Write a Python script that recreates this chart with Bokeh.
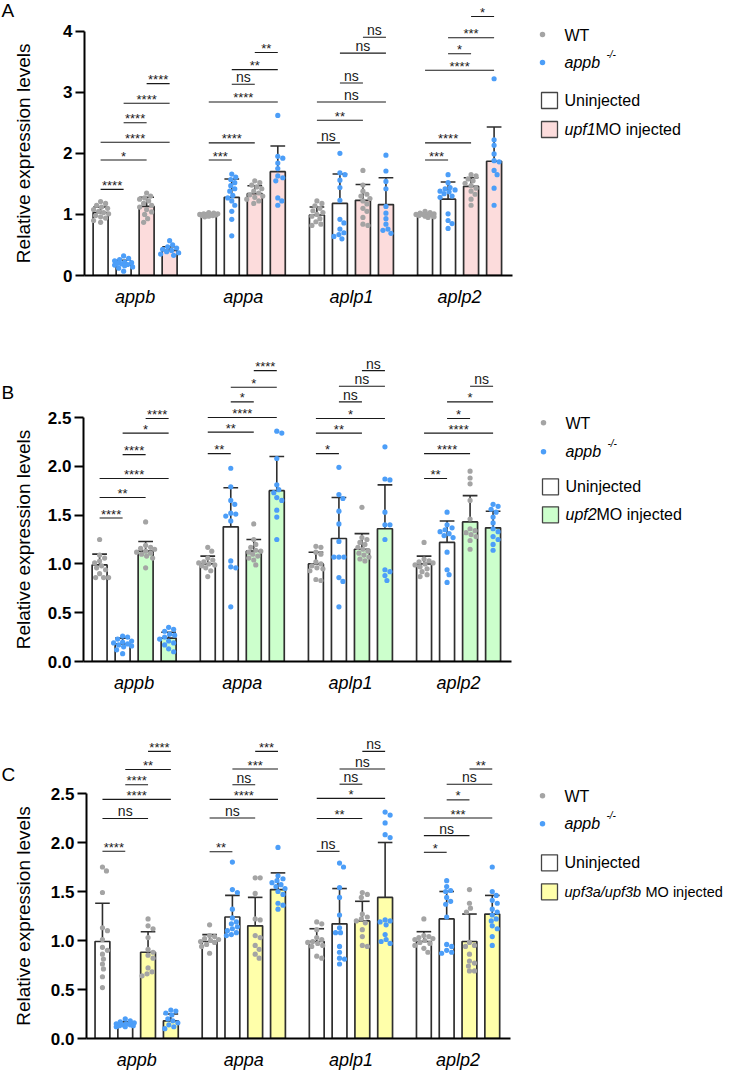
import math
from bokeh.plotting import figure
from bokeh.models import Range1d, FixedTicker, NumeralTickFormatter
from bokeh.layouts import column, row
from bokeh.core.properties import value
from bokeh.embed import file_html
from bokeh.resources import INLINE

FONT = "Liberation Sans"
GREY = "#A4A4A4"
BLUE = "#4C9EF8"
EDGE = "#2E2E2E"

genes = ["appb", "appa", "aplp1", "aplp2"]
bar_genotype = ["WT", "appb", "WT", "appb"]
bar_injected = [False, False, True, True]
y_title = "Relative expression levels"

# ---------------- Panel A (upf1 MO) ----------------
A_means = [[1.03, 0.19, 1.13, 0.41],
           [1.00, 1.28, 1.34, 1.70],
           [0.99, 1.18, 1.23, 1.16],
           [1.00, 1.25, 1.46, 1.87]]
A_sd = [[0.09, 0.06, 0.15, 0.06],
        [0.02, 0.30, 0.13, 0.42],
        [0.13, 0.48, 0.26, 0.44],
        [0.02, 0.28, 0.14, 0.56]]
A_points = [
    [[1.21, 1.18, 1.15, 1.12, 1.10, 1.08, 1.05, 1.03, 1.01, 0.98, 0.96, 0.94, 0.90, 0.87],
     [0.32, 0.28, 0.26, 0.24, 0.22, 0.21, 0.20, 0.19, 0.18, 0.17, 0.16, 0.14, 0.12, 0.07],
     [1.35, 1.30, 1.27, 1.25, 1.22, 1.18, 1.15, 1.12, 1.08, 1.04, 1.00, 0.93, 0.87],
     [0.57, 0.50, 0.47, 0.45, 0.43, 0.41, 0.39, 0.37, 0.35, 0.33]],
    [[1.03, 1.02, 1.01, 1.00, 1.00, 0.99, 0.99, 0.98, 0.97, 0.96, 1.01, 0.98],
     [1.66, 1.61, 1.57, 1.52, 1.47, 1.42, 1.38, 1.31, 1.27, 1.22, 1.15, 1.05, 0.92, 0.65],
     [1.55, 1.52, 1.48, 1.45, 1.42, 1.38, 1.35, 1.32, 1.30, 1.28, 1.25, 1.22, 1.18],
     [2.62, 1.95, 1.92, 1.84, 1.75, 1.63, 1.60, 1.55, 1.27, 1.22, 1.15]],
    [[1.22, 1.18, 1.14, 1.10, 1.06, 1.03, 1.00, 0.97, 0.93, 0.88, 0.84, 0.82],
     [2.00, 1.68, 1.65, 1.56, 1.44, 1.23, 0.92, 0.86, 0.76, 0.70, 0.67, 0.64, 0.60],
     [1.72, 1.48, 1.38, 1.33, 1.30, 1.26, 1.22, 1.17, 1.10, 1.05, 0.95, 0.84, 0.82],
     [1.97, 1.71, 1.54, 1.42, 1.13, 1.02, 0.93, 0.84, 0.76, 0.69, 0.74]],
    [[1.05, 1.03, 1.02, 1.01, 1.00, 1.00, 0.99, 0.98, 0.97, 0.96, 0.95, 1.00],
     [1.65, 1.52, 1.44, 1.42, 1.40, 1.37, 1.34, 1.30, 1.28, 1.01, 0.90, 0.85, 0.77, 1.38],
     [1.65, 1.63, 1.58, 1.55, 1.51, 1.47, 1.43, 1.38, 1.33, 1.25, 1.15],
     [3.22, 2.22, 2.13, 1.99, 1.88, 1.86, 1.72, 1.65, 1.43, 1.15]],
]
# (gene, bar i, bar j, bracket height, label)
A_sig = [
    (0, 0, 1, 1.41, "****"), (0, 0, 2, 1.89, "*"), (0, 0, 3, 2.18, "****"),
    (0, 1, 2, 2.50, "****"), (0, 1, 3, 2.82, "****"), (0, 2, 3, 3.14, "****"),
    (1, 0, 1, 1.89, "***"), (1, 0, 2, 2.17, "****"), (1, 0, 3, 2.84, "****"),
    (1, 1, 2, 3.13, "ns"), (1, 1, 3, 3.37, "**"), (1, 2, 3, 3.65, "**"),
    (2, 0, 1, 2.17, "ns"), (2, 0, 2, 2.54, "**"), (2, 0, 3, 2.84, "ns"),
    (2, 1, 2, 3.15, "ns"), (2, 1, 3, 3.64, "ns"), (2, 2, 3, 3.90, "ns"),
    (3, 0, 1, 1.89, "***"), (3, 0, 2, 2.17, "****"), (3, 0, 3, 3.36, "****"),
    (3, 1, 2, 3.63, "*"), (3, 1, 3, 3.89, "***"), (3, 2, 3, 4.24, "*"),
]

# ---------------- Panel B (upf2 MO) ----------------
B_means = [[0.99, 0.18, 1.13, 0.24],
           [1.00, 1.38, 1.13, 1.75],
           [1.00, 1.26, 1.15, 1.36],
           [1.00, 1.22, 1.43, 1.37]]
B_sd = [[0.11, 0.06, 0.10, 0.06],
        [0.08, 0.40, 0.12, 0.35],
        [0.12, 0.42, 0.16, 0.45],
        [0.08, 0.22, 0.27, 0.17]]
B_points = [
    [[1.25, 1.09, 1.06, 1.03, 1.01, 0.98, 0.96, 0.94, 0.90, 0.86, 0.86, 0.86],
     [0.26, 0.25, 0.23, 0.21, 0.20, 0.19, 0.18, 0.17, 0.16, 0.15, 0.12, 0.08],
     [1.43, 1.19, 1.17, 1.16, 1.15, 1.13, 1.12, 1.11, 1.10, 1.08, 1.06, 0.96],
     [0.35, 0.33, 0.31, 0.28, 0.27, 0.25, 0.23, 0.21, 0.19, 0.17, 0.13, 0.10]],
    [[1.17, 1.13, 1.06, 1.04, 1.02, 1.01, 1.00, 0.99, 0.98, 0.96, 0.93, 0.87],
     [1.98, 1.79, 1.65, 1.61, 1.52, 1.51, 1.49, 1.44, 1.03, 0.97, 0.96, 0.56],
     [1.41, 1.25, 1.20, 1.17, 1.14, 1.13, 1.12, 1.10, 1.08, 1.06, 1.04, 0.99],
     [2.36, 2.34, 2.08, 1.81, 1.76, 1.73, 1.68, 1.65, 1.55, 1.48, 1.25]],
    [[1.18, 1.17, 1.12, 1.10, 1.02, 1.00, 0.98, 0.96, 0.95, 0.93, 0.84, 0.83],
     [1.99, 1.71, 1.67, 1.54, 1.41, 1.23, 1.07, 1.07, 1.07, 0.86, 0.82, 0.56],
     [1.58, 1.27, 1.25, 1.22, 1.20, 1.17, 1.15, 1.13, 1.11, 1.09, 1.07, 1.05, 1.03],
     [2.20, 1.87, 1.86, 1.53, 1.40, 1.40, 1.25, 0.94, 0.92, 0.88, 0.83]],
    [[1.22, 1.05, 1.03, 1.02, 1.01, 1.00, 0.99, 0.97, 0.95, 0.92, 0.89, 0.87],
     [1.53, 1.40, 1.37, 1.35, 1.33, 1.31, 1.29, 1.27, 1.12, 0.94, 0.89, 0.81],
     [1.95, 1.88, 1.82, 1.65, 1.46, 1.36, 1.34, 1.32, 1.30, 1.28, 1.24, 1.15],
     [1.61, 1.59, 1.56, 1.53, 1.48, 1.42, 1.36, 1.33, 1.28, 1.25, 1.20, 1.14]],
]
B_sig = [
    (0, 0, 1, 1.47, "****"), (0, 0, 2, 1.68, "**"), (0, 0, 3, 1.875, "****"),
    (0, 1, 2, 2.12, "****"), (0, 1, 3, 2.34, "*"), (0, 2, 3, 2.49, "****"),
    (1, 0, 1, 2.13, "**"), (1, 0, 2, 2.35, "**"), (1, 0, 3, 2.50, "****"),
    (1, 1, 2, 2.66, "*"), (1, 1, 3, 2.81, "*"), (1, 2, 3, 2.98, "****"),
    (2, 0, 1, 2.13, "*"), (2, 0, 2, 2.34, "**"), (2, 0, 3, 2.49, "*"),
    (2, 1, 2, 2.66, "ns"), (2, 1, 3, 2.82, "ns"), (2, 2, 3, 2.98, "ns"),
    (3, 0, 1, 1.875, "**"), (3, 0, 2, 2.13, "****"), (3, 0, 3, 2.34, "****"),
    (3, 1, 2, 2.49, "*"), (3, 1, 3, 2.66, "*"), (3, 2, 3, 2.82, "ns"),
]

# ---------------- Panel C (upf3a/upf3b MO) ----------------
C_means = [[0.99, 0.14, 0.88, 0.18],
           [0.99, 1.24, 1.15, 1.52],
           [0.99, 1.17, 1.20, 1.44],
           [0.99, 1.22, 0.99, 1.27]]
C_sd = [[0.39, 0.03, 0.21, 0.07],
        [0.07, 0.22, 0.29, 0.17],
        [0.13, 0.36, 0.20, 0.56],
        [0.10, 0.28, 0.28, 0.19]]
C_points = [
    [[1.75, 1.71, 1.49, 1.13, 1.10, 1.01, 0.93, 0.90, 0.86, 0.81, 0.76, 0.71, 0.63, 0.52],
     [0.20, 0.18, 0.17, 0.16, 0.15, 0.15, 0.14, 0.14, 0.13, 0.13, 0.12, 0.12],
     [1.22, 1.15, 1.12, 1.03, 0.91, 0.88, 0.85, 0.82, 0.72, 0.68, 0.66, 0.64],
     [0.29, 0.28, 0.26, 0.24, 0.20, 0.18, 0.16, 0.14, 0.12, 0.10]],
    [[1.16, 1.05, 1.04, 1.02, 1.01, 1.00, 0.99, 0.98, 0.96, 0.94, 0.87],
     [1.80, 1.52, 1.49, 1.32, 1.23, 1.19, 1.17, 1.14, 1.12, 1.10, 1.08, 1.06, 1.05],
     [1.64, 1.64, 1.48, 1.22, 1.21, 1.05, 1.03, 0.95, 0.91, 0.86, 0.82],
     [1.95, 1.66, 1.63, 1.61, 1.59, 1.57, 1.55, 1.53, 1.50, 1.47, 1.38, 1.36, 1.32]],
    [[1.19, 1.17, 1.11, 1.03, 1.01, 0.99, 0.98, 0.97, 0.95, 0.94, 0.84, 0.82],
     [1.79, 1.75, 1.54, 1.44, 1.26, 1.13, 1.08, 1.08, 0.94, 0.88, 0.82, 0.81, 0.76],
     [1.49, 1.47, 1.44, 1.27, 1.24, 1.22, 1.20, 1.18, 1.11, 1.04, 0.95, 0.94],
     [2.31, 2.28, 2.20, 2.08, 2.05, 1.21, 1.20, 1.19, 1.16, 1.06, 1.01, 0.99, 0.97]],
    [[1.22, 1.05, 1.04, 1.03, 1.02, 1.01, 1.00, 0.98, 0.97, 0.95, 0.92, 0.88],
     [1.61, 1.55, 1.51, 1.50, 1.44, 1.40, 1.37, 1.24, 0.96, 0.94, 0.90, 0.87, 0.88],
     [1.52, 1.38, 1.33, 1.29, 0.98, 0.95, 0.94, 0.86, 0.79, 0.77, 0.74, 0.69, 0.69],
     [1.75, 1.50, 1.46, 1.41, 1.38, 1.32, 1.29, 1.26, 1.22, 1.20, 1.15, 1.12, 1.04, 0.95]],
]
C_sig = [
    (0, 0, 1, 1.91, "****"), (0, 0, 2, 2.245, "ns"), (0, 0, 3, 2.44, "****"),
    (0, 1, 2, 2.59, "****"), (0, 1, 3, 2.745, "**"), (0, 2, 3, 2.93, "****"),
    (1, 0, 1, 1.905, "**"), (1, 0, 2, 2.25, "ns"), (1, 0, 3, 2.44, "****"),
    (1, 1, 2, 2.59, "ns"), (1, 1, 3, 2.75, "***"), (1, 2, 3, 2.93, "***"),
    (2, 0, 1, 1.91, "ns"), (2, 0, 2, 2.245, "**"), (2, 0, 3, 2.45, "*"),
    (2, 1, 2, 2.595, "ns"), (2, 1, 3, 2.75, "ns"), (2, 2, 3, 2.93, "ns"),
    (3, 0, 1, 1.90, "*"), (3, 0, 2, 2.07, "ns"), (3, 0, 3, 2.25, "***"),
    (3, 1, 2, 2.435, "*"), (3, 1, 3, 2.595, "ns"), (3, 2, 3, 2.75, "**"),
]

# ---------------- layout geometry ----------------
X_START, X_AXIS_END = -7, 179
BAR_STEP, GROUP_STEP = 10, 47
BAR_W = 6.5
CAP_W = 3.2
SIDE_W = 44
MAIN_W = 690
PAGE_X0 = 0


def bar_x(g, j):
    return g * GROUP_STEP + j * BAR_STEP


def swarm(vals, xpx, ypx, d=5.0, maxpx=9.0):
    n = len(vals)
    order = sorted(range(n), key=lambda k: -vals[k])
    cands = [0.0]
    s = 1.0
    while s <= maxpx:
        cands += [s, -s]
        s += 1.0
    placed = []
    offs = [0.0] * n
    for k in order:
        yy = vals[k] * ypx
        best, bestc, bests = None, 0.0, -1.0
        for c in cands:
            md = min([((c - px) ** 2 + (yy - py) ** 2) ** 0.5 for px, py in placed] or [1e9])
            if md >= d:
                best = c
                break
            if md > bests:
                bests, bestc = md, c
        if best is None:
            best = bestc
        placed.append((best, yy))
        offs[k] = best / xpx
    return offs


def make_main(cfg):
    ml = cfg["fl"] - PAGE_X0 - SIDE_W
    mr = 2
    fw = MAIN_W - ml - mr
    fh = cfg["fh"]
    xpx = cfg["axis_px"] / (X_AXIS_END - X_START)
    ypx = cfg["ypx"]
    yend = fh / ypx
    xend = X_START + fw / xpx
    p = figure(frame_width=fw, frame_height=fh,
               x_range=Range1d(X_START, xend), y_range=Range1d(0, yend),
               output_backend="svg", toolbar_location=None,
               min_border_left=ml, min_border_right=mr,
               min_border_top=cfg["mt"], min_border_bottom=cfg["mb"])
    p.xgrid.visible = False
    p.ygrid.visible = False
    p.outline_line_color = None

    means, sds, pts, sig = cfg["means"], cfg["sd"], cfg["points"], cfg["sig"]
    xs, tops, fills, errtop = [], [], [], []
    for g in range(len(genes)):
        for j in range(4):
            xs.append(bar_x(g, j))
            tops.append(means[g][j])
            fills.append(cfg["fill"] if bar_injected[j] else "white")
            errtop.append(means[g][j] + sds[g][j])

    p.vbar(x=xs, top=tops, bottom=0, width=BAR_W, fill_color=fills,
           line_color=EDGE, line_width=1.7)
    p.segment(x0=xs, y0=tops, x1=xs, y1=errtop, line_color=EDGE, line_width=1.6)
    p.segment(x0=[x - CAP_W for x in xs], y0=errtop, x1=[x + CAP_W for x in xs], y1=errtop,
              line_color=EDGE, line_width=1.6)

    for geno, col in (("WT", GREY), ("appb", BLUE)):
        dx, dy = [], []
        for g in range(len(genes)):
            for j in range(4):
                if bar_genotype[j] != geno:
                    continue
                vals = pts[g][j]
                offs = swarm(vals, xpx, ypx)
                dx += [bar_x(g, j) + o for o in offs]
                dy += vals
        p.scatter(x=dx, y=dy, size=5.2, fill_color=col, line_color=None)

    # significance brackets
    bx0 = [bar_x(s[0], s[1]) for s in sig]
    bx1 = [bar_x(s[0], s[2]) for s in sig]
    by = [s[3] for s in sig]
    p.segment(x0=bx0, y0=by, x1=bx1, y1=by, line_color="#1a1a1a", line_width=1.1)
    star = [s for s in sig if s[4] != "ns"]
    ns = [s for s in sig if s[4] == "ns"]
    p.text(x=[(bar_x(s[0], s[1]) + bar_x(s[0], s[2])) / 2 for s in star], y=[s[3] for s in star],
           text=[s[4] for s in star], text_font=value(FONT), text_font_size="13px",
           text_align="center", text_baseline="middle", y_offset=-4, text_color="#1a1a1a")
    p.text(x=[(bar_x(s[0], s[1]) + bar_x(s[0], s[2])) / 2 for s in ns], y=[s[3] for s in ns],
           text=[s[4] for s in ns], text_font=value(FONT), text_font_size="14px",
           text_align="center", text_baseline="middle", y_offset=-7, text_color="#1a1a1a")

    # legend (positioned from the reference page layout, relative to the frame)
    fl, fb = cfg["fl"], cfg["fb"]

    def LX(px):
        return X_START + (px - fl) / xpx

    def LY(py):
        return (fb - py) / ypx

    yw, ya, yb, yt = cfg["leg_y"]
    p.scatter(x=[LX(542), LX(542)], y=[LY(yw), LY(ya)], size=5.5,
              fill_color=[GREY, BLUE], line_color=None)
    p.text(x=[LX(564)], y=[LY(yw + 1)], text=["WT"], text_font=value(FONT), text_font_size="16px",
           text_baseline="middle", text_color="black")
    p.text(x=[LX(564)], y=[LY(ya)], text=["appb"], text_font=value(FONT), text_font_size="16px",
           text_font_style="italic", text_baseline="middle", text_color="black")
    p.text(x=[LX(606)], y=[LY(ya - 8)], text=["-/-"], text_font=value(FONT), text_font_size="10px",
           text_font_style="italic", text_baseline="middle", text_color="black")
    p.rect(x=[LX(549), LX(549)], y=[LY(yb), LY(yt)], width=16, height=16,
           width_units="screen", height_units="screen",
           fill_color=["white", cfg["fill"]], line_color="#444444", line_width=1.3)
    p.text(x=[LX(564)], y=[LY(yb)], text=["Uninjected"], text_font=value(FONT), text_font_size="16px",
           text_baseline="middle", text_color="black")
    p.text(x=[LX(564)], y=[LY(yt)], text=[cfg["mo"]], text_font=value(FONT),
           text_font_size=cfg["mo_fs"], text_font_style="italic", text_baseline="middle",
           text_color="black")
    p.text(x=[LX(564 + cfg["mo_w"])], y=[LY(yt)], text=["MO injected"], text_font=value(FONT),
           text_font_size=cfg["mo_fs"], text_baseline="middle", text_color="black")

    # axes
    xa = p.xaxis[0]
    centers = [bar_x(g, 0) + 15 for g in range(len(genes))]
    xa.ticker = FixedTicker(ticks=centers)
    xa.bounds = (X_START, X_AXIS_END)
    xa.major_label_overrides = {c: gname for c, gname in zip(centers, genes)}
    xa.major_tick_out = 0
    xa.major_tick_in = 0
    xa.minor_tick_out = 0
    xa.minor_tick_in = 0
    xa.axis_line_width = 2
    xa.axis_line_color = "black"
    xa.major_label_text_font = FONT
    xa.major_label_text_font_style = "italic"
    xa.major_label_text_font_size = "18px"
    xa.major_label_text_color = "black"
    xa.major_label_standoff = 11

    ya_ = p.yaxis[0]
    ya_.ticker = FixedTicker(ticks=cfg["yticks"])
    ya_.bounds = (0, cfg["yticks"][-1])
    if cfg["fmt"]:
        ya_.formatter = NumeralTickFormatter(format=cfg["fmt"])
    ya_.major_tick_out = 9
    ya_.major_tick_in = 0
    ya_.minor_tick_out = 0
    ya_.minor_tick_in = 0
    ya_.major_tick_line_width = 2
    ya_.axis_line_width = 2
    ya_.axis_line_color = "black"
    ya_.major_tick_line_color = "black"
    ya_.major_label_text_font = FONT
    ya_.major_label_text_font_style = "bold"
    ya_.major_label_text_font_size = "17px"
    ya_.major_label_text_color = "black"
    ya_.major_label_standoff = 3
    return p


def make_side(cfg):
    """Narrow strip left of the y axis: panel letter and y-axis title."""
    mt, fh, mb = cfg["mt"], cfg["fh"], cfg["mb"]
    p = figure(frame_width=SIDE_W, frame_height=fh,
               x_range=Range1d(0, SIDE_W), y_range=Range1d(mt + fh, mt),
               output_backend="svg", toolbar_location=None,
               x_axis_location=None, y_axis_location=None,
               min_border_left=0, min_border_right=0, min_border_top=mt, min_border_bottom=mb)
    p.xgrid.visible = False
    p.ygrid.visible = False
    p.outline_line_color = None
    ly = mt + fh - cfg["letter_up"]
    p.text(x=[1], y=[ly], text=[cfg["letter"]], text_font=value(FONT), text_font_size="19px",
           text_baseline="middle", text_align="left", text_color="black")
    ty = mt + fh - cfg["yticks"][-1] / 2 * cfg["ypx"]
    p.text(x=[23], y=[ty], text=[y_title], angle=math.pi / 2, text_font=value(FONT),
           text_font_size="19px", text_baseline="middle", text_align="center", text_color="black")
    return p


panels = [
    dict(letter="A", means=A_means, sd=A_sd, points=A_points, sig=A_sig, fill="#FCDCDC",
         fl=84, axis_px=428, fh=275, mt=0, mb=65, ypx=61.1, fb=275,
         yticks=[0, 1, 2, 3, 4], fmt=None, letter_up=265,
         leg_y=(34, 62, 100, 129), mo="upf1", mo_w=31, mo_fs="16px"),
    dict(letter="B", means=B_means, sd=B_sd, points=B_points, sig=B_sig, fill="#CCFFCC",
         fl=82, axis_px=428, fh=316, mt=5, mb=59, ypx=97.6, fb=660.7,
         yticks=[0, 0.5, 1.0, 1.5, 2.0, 2.5], fmt="0.0", letter_up=269,
         leg_y=(422, 451, 486, 514), mo="upf2", mo_w=31, mo_fs="16px"),
    dict(letter="C", means=C_means, sd=C_sd, points=C_points, sig=C_sig, fill="#FFFFAA",
         fl=86, axis_px=424, fh=306, mt=12, mb=32, ypx=98.0, fb=1050.7,
         yticks=[0, 0.5, 1.0, 1.5, 2.0, 2.5], fmt="0.0", letter_up=264,
         leg_y=(808, 836, 875, 904), mo="upf3a/upf3b", mo_w=81, mo_fs="14.5px"),
]

rows = []
for cfg in panels:
    rows.append(row(make_side(cfg), make_main(cfg)))

layout = column(*rows)
open("out.html", "w").write(file_html(layout, INLINE))
